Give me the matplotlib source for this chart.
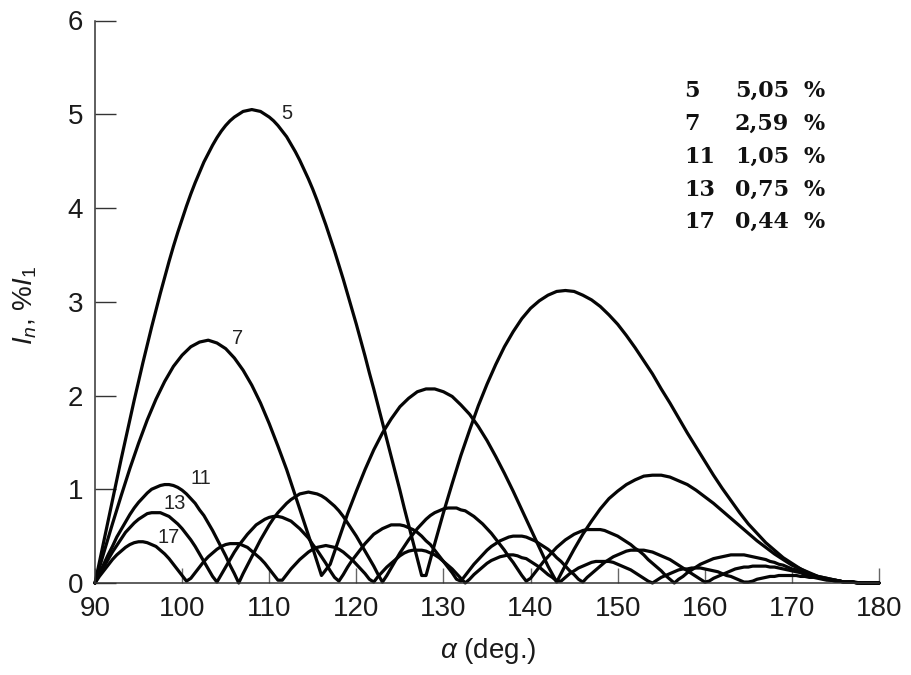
import numpy as np
import matplotlib
matplotlib.use("Agg")
import matplotlib.pyplot as plt

plt.rcParams['font.family'] = ['Liberation Sans', 'DejaVu Sans']
plt.rcParams['mathtext.fontset'] = 'custom'
plt.rcParams['mathtext.rm'] = 'Liberation Sans'
plt.rcParams['mathtext.it'] = 'Liberation Sans:italic'
plt.rcParams['mathtext.bf'] = 'Liberation Sans:bold'

# ---------------- data (harmonic current, hundredths of %I1) ----------------
# 5th harmonic: 0.5 deg steps 90..127, then 127.5, then 1 deg steps 128..180
alpha5 = np.concatenate([np.arange(90, 127.01, 0.5), [127.5], np.arange(128, 180.01, 1.0)])
I5 = [0, 22, 44, 66, 88, 110, 132, 153, 174, 195, 215, 235, 254, 273, 291, 309, 326, 343, 359, 374,
      388, 402, 415, 427, 438, 449, 458, 467, 475, 482, 488, 493, 497, 500, 503, 504, 505, 504, 503, 500,
      497, 493, 488, 482, 476, 468, 460, 451, 441, 431, 420, 408, 395, 382, 368, 354, 339, 324, 308, 292,
      276, 259, 242, 224, 207, 189, 171, 153, 135, 117, 99, 80, 62, 44, 26,
      8,
      8, 42, 75, 106, 136, 163, 189, 212, 233, 252, 268, 282, 293, 301, 307, 311, 312, 311, 307, 302,
      295, 286, 276, 264, 251, 237, 223, 207, 192, 176, 160, 145, 130, 115, 101, 88, 75, 63, 53, 43,
      35, 27, 21, 15, 11, 7, 5, 3, 1, 1, 0, 0, 0]

# 7th harmonic: 1 deg steps 90..180
alpha7 = np.arange(90, 180.01, 1.0)
I7 = [0, 32, 63, 93, 122, 149, 174, 196, 215, 231, 243, 252, 257, 259, 256, 250, 240, 227, 211, 192,
      170, 146, 121, 93, 65, 37, 8, 20, 47, 74, 98, 121, 142, 160, 175, 188, 197, 204, 207, 207,
      204, 199, 190, 180, 167, 152, 135, 117, 98, 78, 58, 38, 18, 1, 19, 36, 52, 66, 79, 90,
      98, 105, 110, 114, 115, 115, 113, 109, 105, 99, 92, 85, 77, 69, 61, 53, 45, 38, 31, 25,
      19, 15, 10, 7, 5, 3, 1, 1, 0, 0, 0]

# 11th, 13th, 17th harmonics: 0.5 deg steps 90..180
alpha_fine = np.arange(90, 180.01, 0.5)
I11 = [0, 10, 20, 30, 39, 49, 57, 65, 73, 80, 86, 91, 96, 100, 102, 104, 105, 105, 104, 102,
       99, 95, 90, 85, 78, 72, 64, 56, 47, 38, 29, 19, 10, 0, 10, 19, 28, 37, 46, 54,
       62, 69, 75, 80, 85, 89, 92, 95, 96, 97, 96, 95, 93, 90, 86, 82, 77, 71, 64, 57,
       50, 42, 34, 26, 18, 9, 1, 8, 16, 24, 32, 39, 46, 52, 58, 63, 68, 72, 75, 77,
       79, 80, 80, 80, 78, 77, 74, 71, 67, 63, 58, 53, 47, 41, 35, 28, 22, 15, 8, 2,
       5, 11, 17, 23, 28, 33, 38, 42, 46, 49, 52, 54, 56, 57, 57, 57, 57, 56, 54, 52,
       50, 47, 44, 41, 37, 34, 30, 25, 21, 17, 13, 8, 4, 0, 4, 7, 11, 14, 17, 20,
       22, 24, 26, 27, 28, 29, 30, 30, 30, 30, 29, 28, 27, 26, 25, 23, 22, 20, 19, 17,
       15, 14, 12, 10, 9, 8, 6, 5, 4, 3, 3, 2, 1, 1, 1, 0, 0, 0, 0, 0, 0]
I13 = [0, 9, 17, 25, 33, 40, 47, 54, 59, 64, 68, 71, 74, 75, 75, 75, 73, 71, 67, 63,
       58, 52, 46, 39, 31, 23, 15, 7, 1, 9, 17, 25, 33, 40, 46, 52, 57, 62, 65, 68,
       70, 71, 71, 70, 68, 66, 62, 58, 53, 48, 41, 35, 28, 21, 13, 6, 2, 9, 17, 24,
       30, 36, 42, 47, 52, 55, 58, 60, 62, 62, 62, 61, 59, 57, 54, 50, 45, 41, 35, 29,
       23, 17, 11, 4, 2, 8, 14, 20, 25, 30, 35, 39, 42, 45, 47, 49, 50, 50, 50, 49,
       47, 45, 42, 39, 36, 32, 27, 23, 18, 13, 9, 4, 1, 6, 10, 14, 18, 22, 25, 28,
       30, 32, 34, 35, 35, 35, 35, 34, 33, 31, 29, 27, 25, 22, 19, 16, 13, 10, 7, 4,
       1, 2, 5, 7, 9, 11, 13, 15, 16, 17, 17, 18, 18, 18, 18, 17, 17, 16, 15, 14,
       13, 12, 11, 9, 8, 7, 6, 5, 4, 3, 2, 2, 1, 1, 1, 0, 0, 0, 0, 0, 0]
I17 = [0, 7, 13, 19, 25, 30, 34, 38, 41, 43, 44, 44, 43, 41, 39, 35, 31, 26, 20, 14,
       8, 2, 5, 11, 17, 23, 28, 32, 36, 39, 41, 42, 42, 42, 40, 38, 34, 30, 26, 21,
       15, 9, 3, 3, 9, 15, 20, 25, 29, 33, 36, 38, 39, 40, 39, 38, 36, 33, 29, 25,
       20, 15, 10, 4, 1, 7, 12, 17, 21, 25, 29, 32, 34, 35, 35, 35, 34, 32, 30, 27,
       23, 19, 15, 10, 5, 0, 4, 9, 13, 17, 21, 24, 26, 28, 29, 30, 30, 29, 27, 26,
       23, 20, 17, 13, 9, 6, 2, 2, 6, 10, 13, 16, 18, 20, 22, 23, 23, 23, 23, 22,
       20, 18, 16, 14, 11, 8, 5, 2, 0, 3, 6, 8, 10, 12, 14, 15, 15, 16, 16, 16,
       15, 14, 13, 12, 10, 8, 7, 5, 3, 1, 1, 2, 4, 5, 6, 7, 7, 8, 8, 8,
       8, 8, 7, 7, 6, 6, 5, 4, 3, 3, 2, 2, 1, 1, 1, 0, 0, 0, 0, 0, 0]

curve_labels = ["5", "7", "11", "13", "17"]
label_pos = [(112.0, 5.01), (106.4, 2.61), (102.2, 1.12), (99.2, 0.85), (98.4, 0.49)]
table_n = ["5", "7", "11", "13", "17"]
table_max = ["5,05", "2,59", "1,05", "0,75", "0,44"]
xticks = [90, 100, 110, 120, 130, 140, 150, 160, 170, 180]
yticks = [0, 1, 2, 3, 4, 5, 6]

# ---------------- figure ----------------
W, H = 911, 675
fig = plt.figure(figsize=(W / 100, H / 100), dpi=100)
ax = fig.add_axes([95 / W, 92 / H, 784 / W, 562.5 / H])

series = [(alpha5, I5), (alpha7, I7), (alpha_fine, I11), (alpha_fine, I13), (alpha_fine, I17)]
for a, v in series:
    ax.plot(a, np.asarray(v) / 100.0, color="#050505", lw=2.3, clip_on=False,
            solid_joinstyle="round", solid_capstyle="round")

for lab, (x, y) in zip(curve_labels, label_pos):
    ax.text(x, y, lab, fontsize=14.5, ha="center", va="center", color="#222222")

ax.set_xlim(90, 180)
ax.set_ylim(0, 6)
ax.set_xticks(xticks)
ax.set_yticks(yticks)
for s in ["top", "right"]:
    ax.spines[s].set_visible(False)
for s in ["left", "bottom"]:
    ax.spines[s].set_color("#333333")
    ax.spines[s].set_linewidth(1.1)
ax.tick_params(axis="y", direction="in", length=15, width=1.0, color="#333333",
               labelsize=20, pad=8.5, labelcolor="#1a1a1a")
ax.tick_params(axis="x", direction="in", length=11, width=1.0, color="#666666",
               labelsize=20, pad=9.5, labelcolor="#1a1a1a")

fig.text(25 / W, 1 - 306 / H, r"$I_n$, %$I_1$", rotation=90, fontsize=20,
         ha="center", va="center", color="#1a1a1a")
fig.text(488 / W, 1 - 651 / H, r"$\alpha$ (deg.)", fontsize=20,
         ha="center", va="center", color="#1a1a1a")

row_base = [97, 130, 163, 196, 228]
for n, m, yb in zip(table_n, table_max, row_base):
    kw = dict(fontsize=16, fontweight="bold", family="DejaVu Serif", va="baseline",
              ha="left", color="#111111")
    fig.text(684 / W, 1 - yb / H, n, **kw)
    fig.text(735 / W, 1 - yb / H, m, **kw)
    fig.text(803 / W, 1 - yb / H, "%", **kw)

fig.savefig("out.png", dpi=100, facecolor="white")
